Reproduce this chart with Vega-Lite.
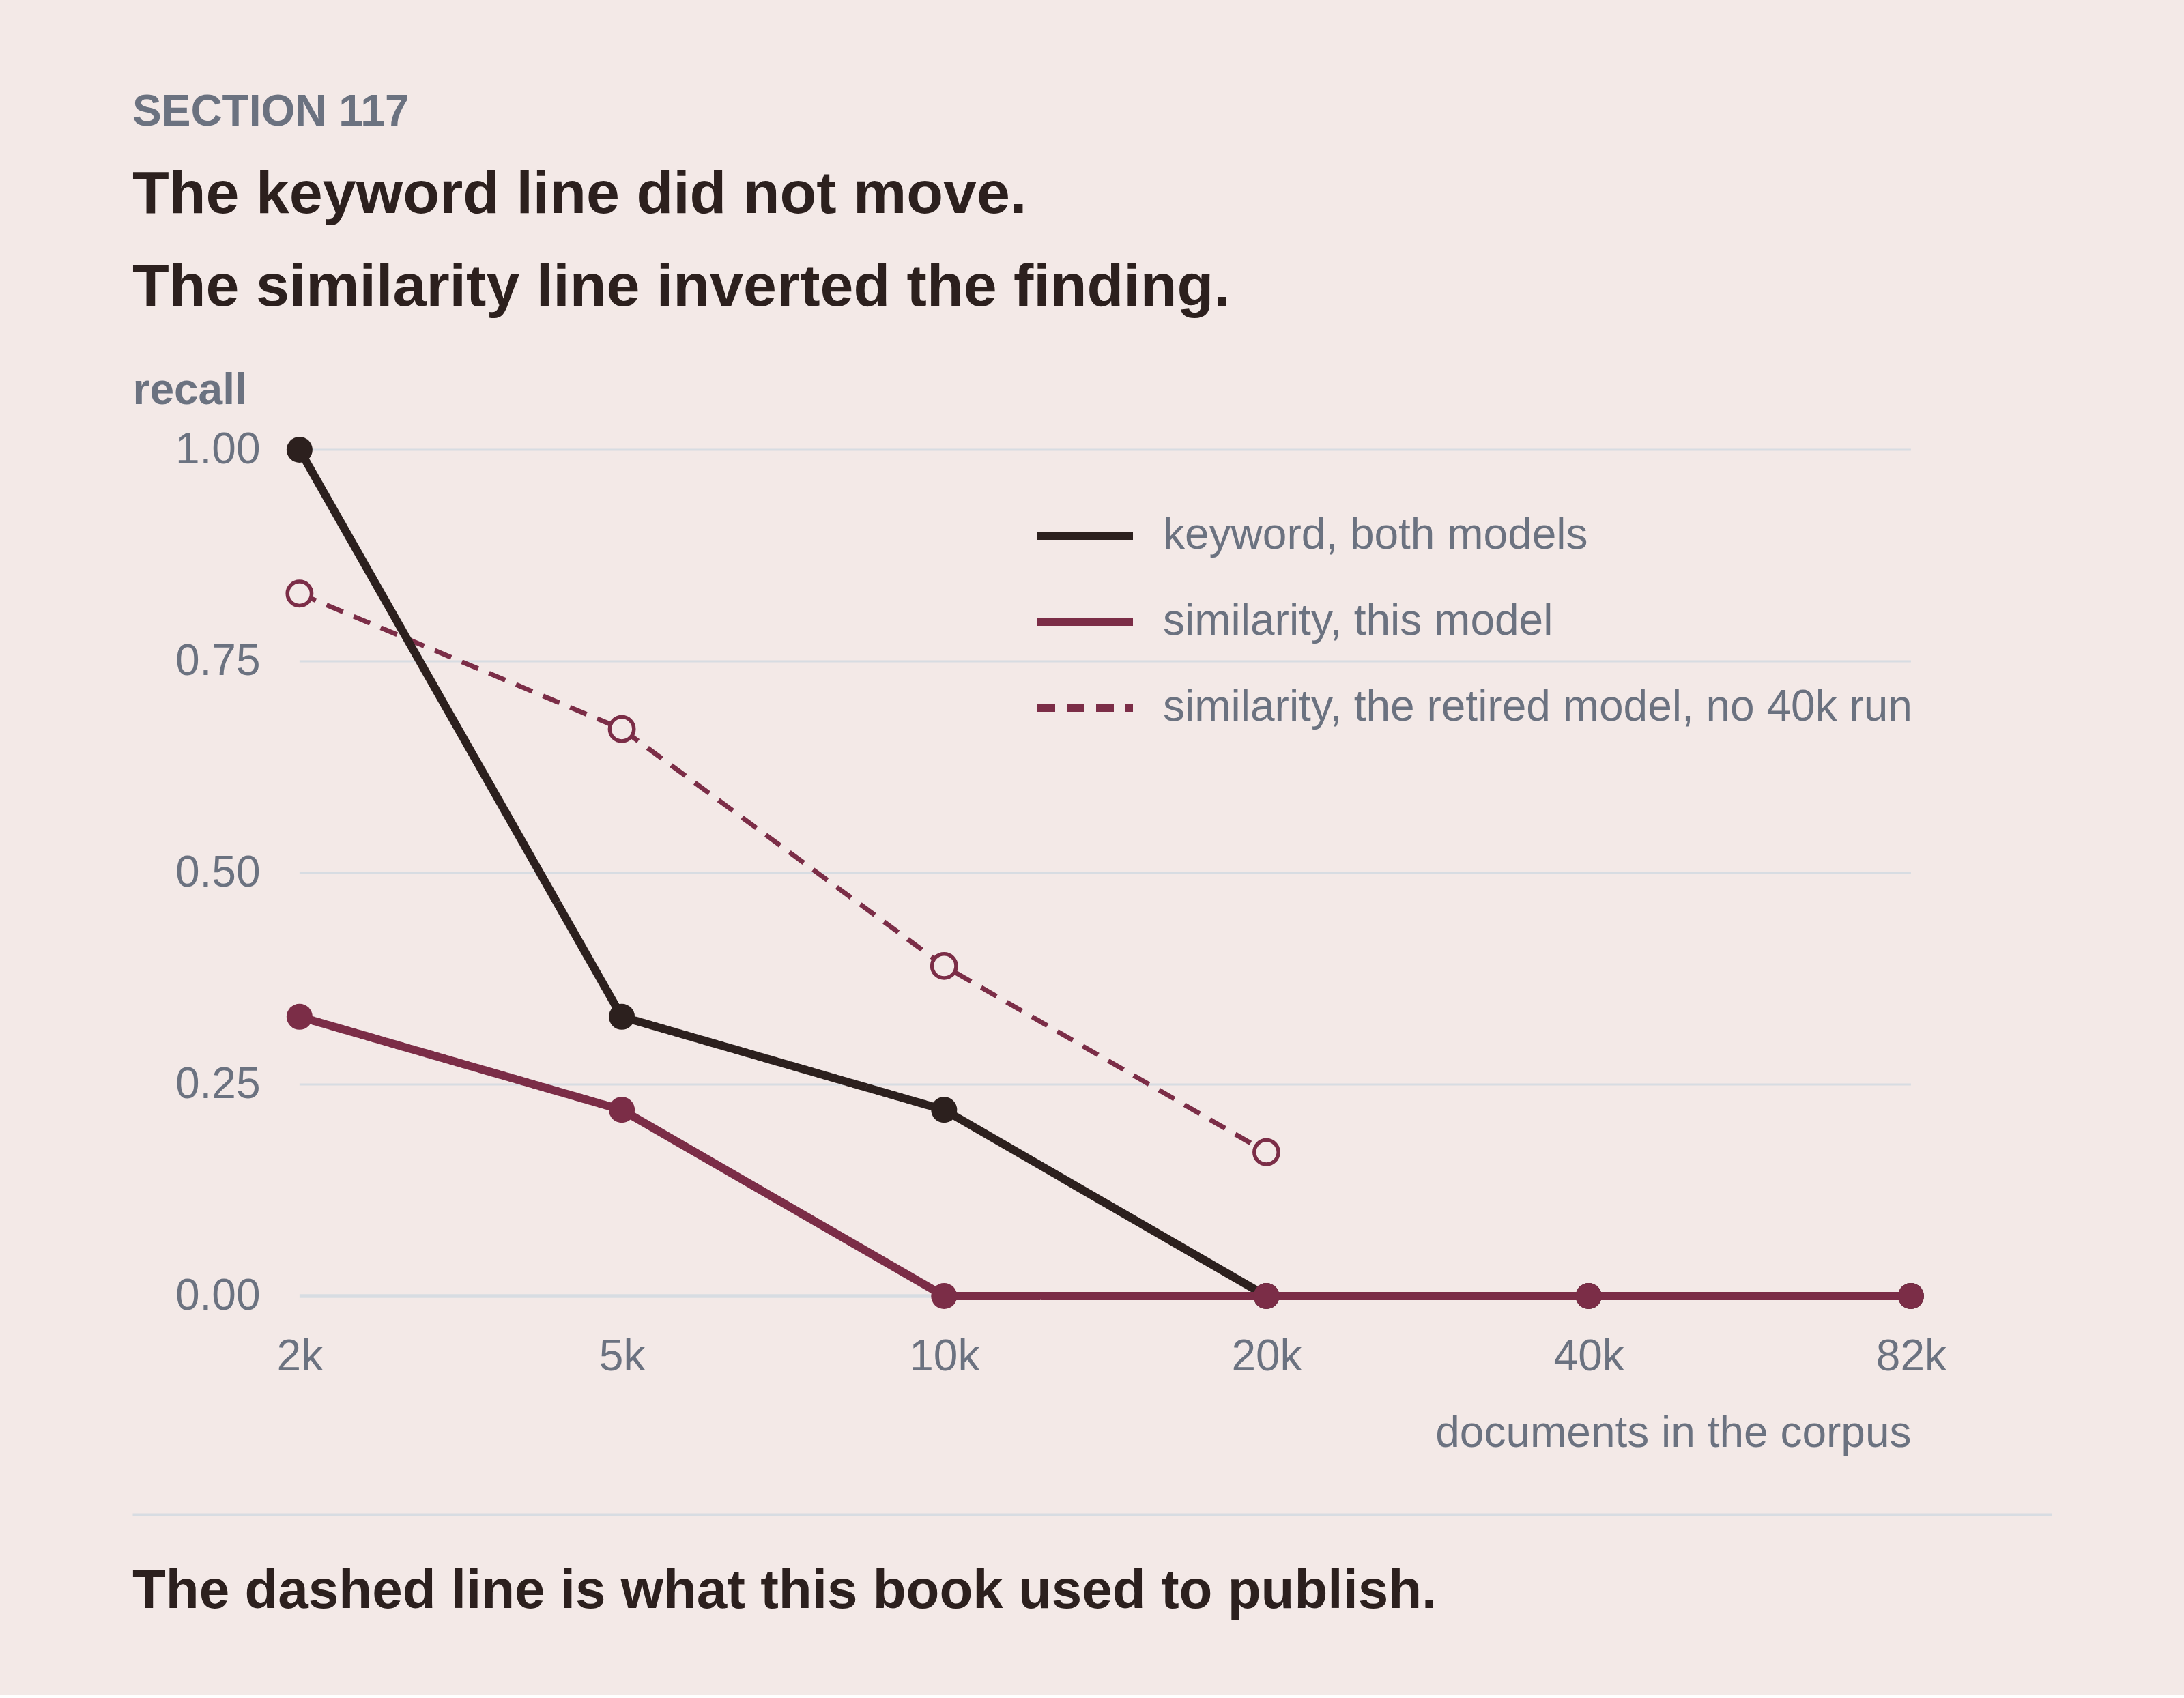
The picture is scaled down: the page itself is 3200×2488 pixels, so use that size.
{
  "$schema": "https://vega.github.io/schema/vega-lite/v6.json",
  "background": "#f3e9e7",
  "padding": {"left": 194, "right": 194, "top": 133, "bottom": 112},
  "title": {
    "text": "SECTION 117",
    "subtitle": ["The keyword line did not move.", "The similarity line inverted the finding."],
    "anchor": "start",
    "frame": "group",
    "font": "Liberation Sans",
    "fontSize": 64,
    "fontWeight": "bold",
    "color": "#6b7280",
    "subtitleFont": "Liberation Sans",
    "subtitleFontSize": 88,
    "subtitleFontWeight": "bold",
    "subtitleColor": "#2c201e",
    "subtitleLineHeight": 136,
    "subtitlePadding": 45,
    "offset": 74
  },
  "vconcat": [
    {
      "width": 2812,
      "height": 1240,
      "title": {
        "text": "The dashed line is what this book used to publish.",
        "orient": "bottom",
        "anchor": "start",
        "frame": "group",
        "font": "Liberation Sans",
        "fontSize": 80,
        "fontWeight": "bold",
        "color": "#2c201e",
        "offset": 74
      },
      "data": {
        "values": [
          {"series": "keyword, both models", "size": "2k", "recall": 1.0},
          {"series": "keyword, both models", "size": "5k", "recall": 0.33},
          {"series": "keyword, both models", "size": "10k", "recall": 0.22},
          {"series": "keyword, both models", "size": "20k", "recall": 0.0},
          {"series": "keyword, both models", "size": "40k", "recall": 0.0},
          {"series": "keyword, both models", "size": "82k", "recall": 0.0},
          {"series": "similarity, this model", "size": "2k", "recall": 0.33},
          {"series": "similarity, this model", "size": "5k", "recall": 0.22},
          {"series": "similarity, this model", "size": "10k", "recall": 0.0},
          {"series": "similarity, this model", "size": "20k", "recall": 0.0},
          {"series": "similarity, this model", "size": "40k", "recall": 0.0},
          {"series": "similarity, this model", "size": "82k", "recall": 0.0},
          {"series": "similarity, the retired model, no 40k run", "size": "2k", "recall": 0.83},
          {"series": "similarity, the retired model, no 40k run", "size": "5k", "recall": 0.67},
          {"series": "similarity, the retired model, no 40k run", "size": "10k", "recall": 0.39},
          {"series": "similarity, the retired model, no 40k run", "size": "20k", "recall": 0.17}
        ]
      },
      "encoding": {
        "x": {
          "field": "size",
          "type": "ordinal",
          "scale": {
            "type": "point",
            "domain": ["2k", "5k", "10k", "20k", "40k", "82k"],
            "padding": 0.4775,
            "align": 0.543
          },
          "axis": {
            "grid": false,
            "domain": true,
            "domainColor": "#d7dce2",
            "domainWidth": 4,
            "ticks": false,
            "tickSize": 0,
            "offset": 320,
            "labelPadding": -263,
            "labelAngle": 0,
            "labelFontSize": 64,
            "labelColor": "#6b7280",
            "title": "documents in the corpus",
            "titleX": 2606,
            "titleY": -100,
            "titleAlign": "right",
            "titleBaseline": "alphabetic",
            "titleFontSize": 64,
            "titleFontWeight": "normal",
            "titleColor": "#6b7280"
          }
        },
        "y": {
          "field": "recall",
          "type": "quantitative",
          "scale": {"domain": [0, 1], "nice": false},
          "axis": {
            "values": [0, 0.25, 0.5, 0.75, 1],
            "format": ".2f",
            "grid": false,
            "domain": false,
            "ticks": false,
            "tickSize": 0,
            "offset": -245,
            "labelPadding": 58,
            "labelFontSize": 64,
            "labelColor": "#6b7280",
            "title": "recall",
            "titleAngle": 0,
            "titleAlign": "left",
            "titleBaseline": "alphabetic",
            "titleX": -245,
            "titleY": -68,
            "titleFontSize": 64,
            "titleFontWeight": "bold",
            "titleColor": "#6b7280"
          }
        }
      },
      "layer": [
        {
          "data": {"values": [{"recall": 0.25}, {"recall": 0.5}, {"recall": 0.75}, {"recall": 1}]},
          "mark": {"type": "rule", "color": "#d7dce2", "strokeWidth": 3},
          "encoding": {
            "x": {"datum": "2k", "type": "ordinal"},
            "x2": {"datum": "82k"}
          }
        },
        {
          "data": {"values": [{"recall": 0}]},
          "mark": {"type": "rule", "color": "#d7dce2", "strokeWidth": 5.5},
          "encoding": {
            "x": {"datum": "2k", "type": "ordinal"},
            "x2": {"datum": "82k"}
          }
        },
        {
          "transform": [{"filter": "datum.series === 'similarity, the retired model, no 40k run'"}],
          "mark": {"type": "line", "strokeWidth": 7},
          "encoding": {
            "color": {
              "field": "series",
              "type": "nominal",
              "scale": {
                "domain": ["keyword, both models", "similarity, this model", "similarity, the retired model, no 40k run"],
                "range": ["#2c201e", "#7b2d47", "#7b2d47"]
              },
              "legend": {"title": null, "symbolType": "M-2,0H2"}
            },
            "strokeDash": {
              "field": "series",
              "type": "nominal",
              "scale": {
                "domain": ["keyword, both models", "similarity, this model", "similarity, the retired model, no 40k run"],
                "range": [[1, 0], [1, 0], [26, 17]]
              },
              "legend": {"title": null, "symbolType": "M-2,0H2"}
            }
          }
        },
        {
          "transform": [{"filter": "datum.series === 'similarity, the retired model, no 40k run'"}],
          "mark": {"type": "circle", "size": 1250, "fill": "#f3e9e7", "stroke": "#7b2d47", "strokeWidth": 5.5, "opacity": 1}
        },
        {
          "transform": [{"filter": "datum.series === 'keyword, both models'"}],
          "mark": {"type": "line", "strokeWidth": 12},
          "encoding": {
            "color": {"field": "series", "type": "nominal", "legend": {"title": null, "symbolType": "M-2,0H2"}},
            "strokeDash": {"field": "series", "type": "nominal", "legend": {"title": null, "symbolType": "M-2,0H2"}}
          }
        },
        {
          "transform": [{"filter": "datum.series === 'keyword, both models'"}],
          "mark": {"type": "circle", "size": 1450, "color": "#2c201e", "opacity": 1}
        },
        {
          "transform": [{"filter": "datum.series === 'similarity, this model'"}],
          "mark": {"type": "line", "strokeWidth": 12},
          "encoding": {
            "color": {"field": "series", "type": "nominal", "legend": {"title": null, "symbolType": "M-2,0H2"}},
            "strokeDash": {"field": "series", "type": "nominal", "legend": {"title": null, "symbolType": "M-2,0H2"}}
          }
        },
        {
          "transform": [{"filter": "datum.series === 'similarity, this model'"}],
          "mark": {"type": "circle", "size": 1450, "color": "#7b2d47", "opacity": 1}
        }
      ]
    }
  ],
  "config": {
    "font": "Liberation Sans",
    "view": {"stroke": null},
    "legend": {
      "orient": "none",
      "legendX": 1355,
      "legendY": 85,
      "direction": "vertical",
      "padding": 0,
      "symbolSize": 4900,
      "symbolStrokeWidth": 12,
      "labelFont": "Liberation Sans",
      "labelFontSize": 64,
      "labelColor": "#6b7280",
      "labelOffset": 73,
      "labelLimit": 3000,
      "rowPadding": 53
    }
  }
}
